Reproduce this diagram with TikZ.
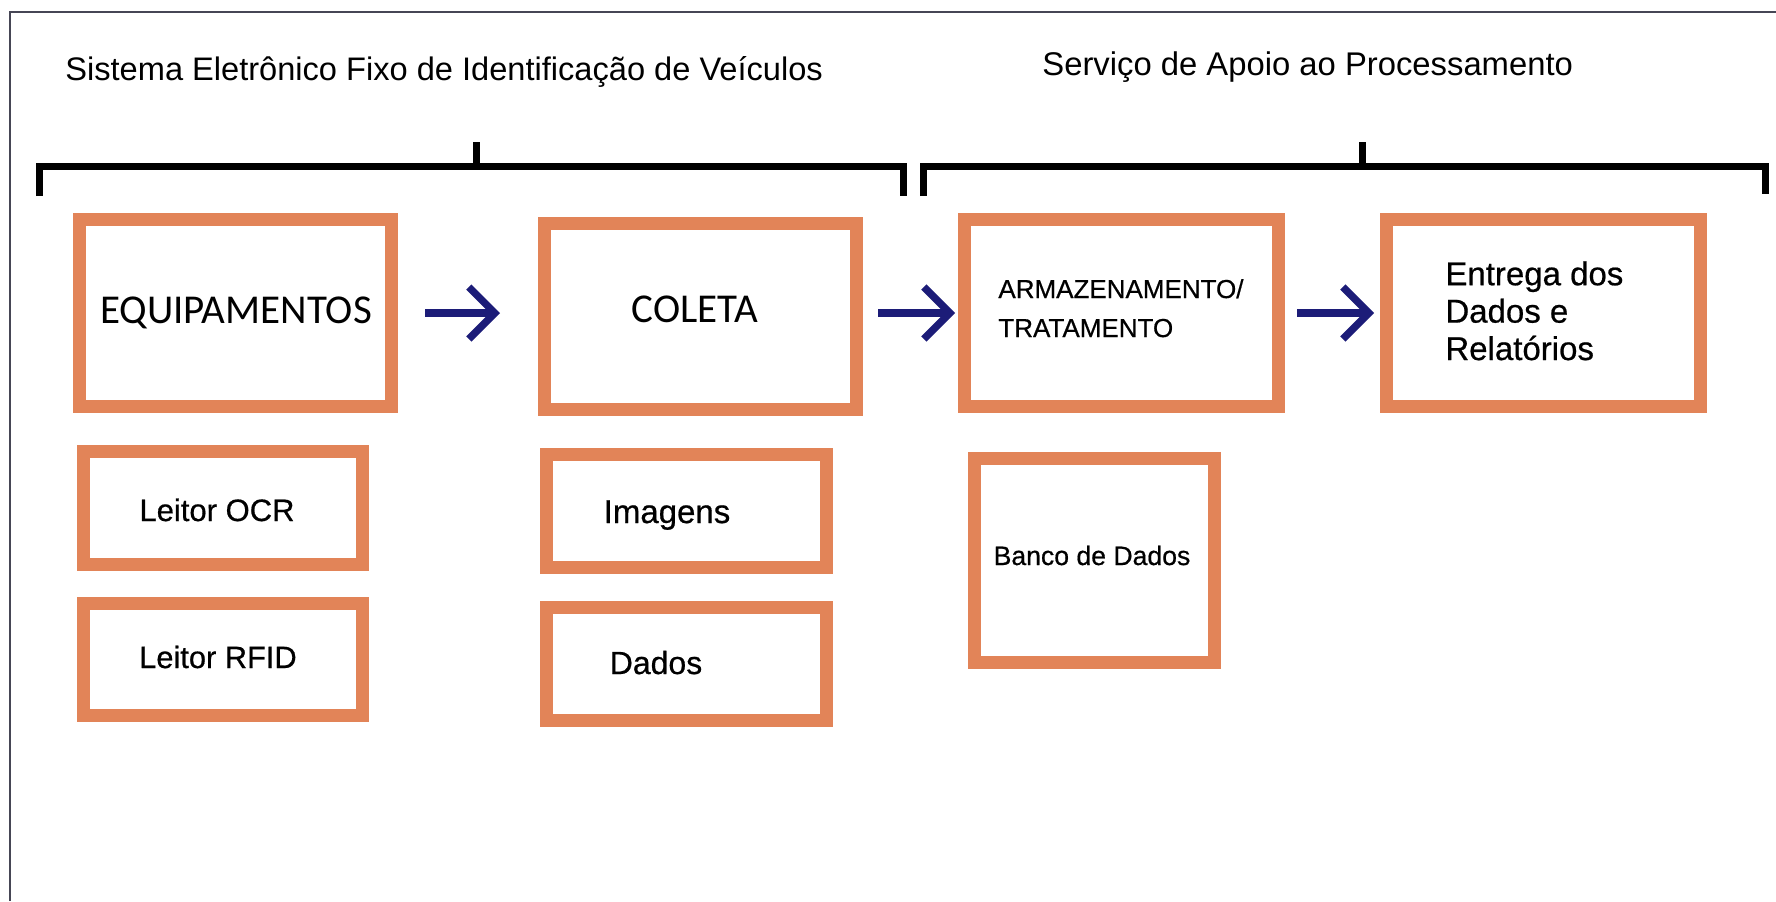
\documentclass[tikz,border=0pt]{standalone}
\usepackage{fontspec}
\setmainfont{Liberation Sans}
\newfontfamily\calib{Carlito}
\newfontfamily\lblfont[FakeBold=0.6]{Liberation Sans}
\usetikzlibrary{arrows.meta}
\definecolor{boxorange}{RGB}{226,132,88}
\definecolor{arrowblue}{RGB}{28,28,120}
\definecolor{framegray}{RGB}{70,70,85}
\begin{document}
\begin{tikzpicture}[x=0.5pt,y=-0.5pt,
  box/.style={draw=boxorange, line width=6.5pt, rectangle, inner sep=0pt, fill=white},
  lbl/.style={inner sep=0pt, anchor=base, text=black},
  mlbl/.style={inner sep=0pt, anchor=base west, align=left, text=black},
  flow/.style={draw=arrowblue, line width=3.7pt, -{Straight Barb[length=13pt,width=26pt]}},
  brk/.style={line width=3.5pt, black, line join=miter},
]
\fill[white] (0,0) rectangle (1776,901);
\useasboundingbox (0,0) rectangle (1776,901);
\draw[framegray, line width=1.2pt] (10,901) -- (10,12) -- (1776,12);

% titles
\node[lbl, anchor=base west, font=\fontsize{16.3}{19}\selectfont] (t1) at (65,80) {Sistema Eletrônico Fixo de Identificação de Veículos};
\node[lbl, anchor=base west, font=\fontsize{16.4}{19}\selectfont] (t2) at (1042,75) {Serviço de Apoio ao Processamento};

% brackets
\draw[brk] (39,196) -- (39,166) -- (903,166) -- (903,196);
\draw[brk] (476,166) -- (476,142);
\draw[brk] (923,196) -- (923,166) -- (1765,166) -- (1765,194);
\draw[brk] (1362,166) -- (1362,142);

% boxes
\node[box, minimum width=156pt, minimum height=93.5pt] (equip) at (235.5,313) {};
\node[box, minimum width=156pt, minimum height=93pt] (coleta) at (700.5,316.5) {};
\node[box, minimum width=157pt, minimum height=93.5pt] (arm) at (1121.5,313) {};
\node[box, minimum width=157pt, minimum height=93.5pt] (entrega) at (1543.5,313) {};
\node[box, minimum width=139.5pt, minimum height=56.5pt] (ocr) at (223,508) {};
\node[box, minimum width=139.5pt, minimum height=56pt] (rfid) at (223,659.5) {};
\node[box, minimum width=140pt, minimum height=56.5pt] (imagens) at (686.5,511) {};
\node[box, minimum width=140pt, minimum height=56.5pt] (dados) at (686.5,664) {};
\node[box, minimum width=120pt, minimum height=102pt] (banco) at (1094.5,560.5) {};

% labels
\node[lbl, font=\calib\fontsize{20.5}{24}\selectfont] (equipT) at (236,323) {EQUIPAMENTOS};
\node[lbl, font=\calib\fontsize{20.5}{24}\selectfont] (coletaT) at (695,322) {COLETA};
\node[mlbl, font=\lblfont\fontsize{13}{19.5}\selectfont] (armT) at (998,337) {ARMAZENAMENTO/\\TRATAMENTO};
\node[mlbl, font=\lblfont\fontsize{16.5}{18.7}\selectfont] (entT) at (1445,360) {Entrega dos\\Dados e\\Relatórios};
\node[lbl, font=\lblfont\fontsize{15.5}{18}\selectfont] (ocrT) at (217,521) {Leitor OCR};
\node[lbl, font=\lblfont\fontsize{15.4}{18}\selectfont] (rfidT) at (218,668) {Leitor RFID};
\node[lbl, font=\lblfont\fontsize{16.5}{18}\selectfont] (imgT) at (667,523) {Imagens};
\node[lbl, font=\lblfont\fontsize{16}{18}\selectfont] (dadosT) at (656,674) {Dados};
\node[lbl, font=\lblfont\fontsize{13.3}{16}\selectfont] (bancoT) at (1092,565) {Banco de Dados};

% arrows
\draw[flow, shorten <=13.5pt, shorten >=19pt] (equip.east) -- (equip.east -| coleta.west);
\draw[flow, shorten <=7.5pt, shorten >=1.5pt] (arm.west -| coleta.east) -- (arm.west);
\draw[flow, shorten <=6pt, shorten >=3pt] (arm.east) -- (entrega.west);
\end{tikzpicture}
\end{document}
